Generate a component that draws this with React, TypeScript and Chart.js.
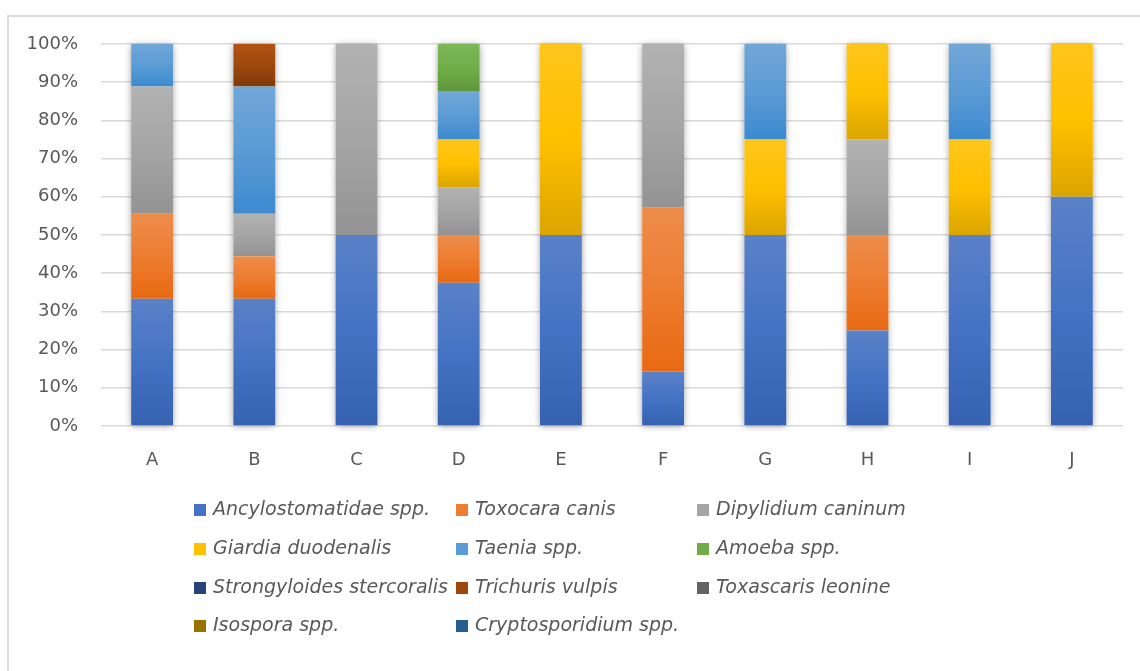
import React, { useEffect, useRef } from "react";
import { Chart, registerables } from "chart.js";

Chart.register(...registerables);

const categories = ["A", "B", "C", "D", "E", "F", "G", "H", "I", "J"];

const seriesNames = [
  "Ancylostomatidae spp.",
  "Toxocara canis",
  "Dipylidium caninum",
  "Giardia duodenalis",
  "Taenia spp.",
  "Amoeba spp.",
  "Strongyloides stercoralis",
  "Trichuris vulpis",
  "Toxascaris leonine",
  "Isospora spp.",
  "Cryptosporidium spp.",
];

const ancylostomatidae = [33.33, 33.33, 50, 37.5, 50, 14.29, 50, 25, 50, 60];
const toxocara = [22.22, 11.11, 0, 12.5, 0, 42.86, 0, 25, 0, 0];
const dipylidium = [33.33, 11.11, 50, 12.5, 0, 42.85, 0, 25, 0, 0];
const giardia = [0, 0, 0, 12.5, 50, 0, 25, 25, 25, 40];
const taenia = [11.12, 33.33, 0, 12.5, 0, 0, 25, 0, 25, 0];
const amoeba = [0, 0, 0, 12.5, 0, 0, 0, 0, 0, 0];
const strongyloides = [0, 0, 0, 0, 0, 0, 0, 0, 0, 0];
const trichuris = [0, 11.12, 0, 0, 0, 0, 0, 0, 0, 0];
const toxascaris = [0, 0, 0, 0, 0, 0, 0, 0, 0, 0];
const isospora = [0, 0, 0, 0, 0, 0, 0, 0, 0, 0];
const cryptosporidium = [0, 0, 0, 0, 0, 0, 0, 0, 0, 0];

const seriesValues = [
  ancylostomatidae,
  toxocara,
  dipylidium,
  giardia,
  taenia,
  amoeba,
  strongyloides,
  trichuris,
  toxascaris,
  isospora,
  cryptosporidium,
];

const seriesColors = [
  "#4472C4",
  "#ED7D31",
  "#A5A5A5",
  "#FFC000",
  "#5B9BD5",
  "#70AD47",
  "#264478",
  "#9E480E",
  "#636363",
  "#997300",
  "#255E91",
];

const yTicks = [0, 10, 20, 30, 40, 50, 60, 70, 80, 90, 100];

function toHsl(hex: string) {
  const n = parseInt(hex.slice(1), 16);
  const r = ((n >> 16) & 255) / 255;
  const g = ((n >> 8) & 255) / 255;
  const b = (n & 255) / 255;
  const max = Math.max(r, g, b);
  const min = Math.min(r, g, b);
  const l = (max + min) / 2;
  let h = 0;
  let s = 0;
  if (max !== min) {
    const d = max - min;
    s = l > 0.5 ? d / (2 - max - min) : d / (max + min);
    if (max === r) h = (g - b) / d + (g < b ? 6 : 0);
    else if (max === g) h = (b - r) / d + 2;
    else h = (r - g) / d + 4;
    h *= 60;
  }
  return { h, s: s * 100, l: l * 100 };
}

function shade(hex: string, dl: number, ds: number) {
  const { h, s, l } = toHsl(hex);
  const s2 = s > 2 ? Math.min(100, s + ds) : s;
  const l2 = Math.max(0, Math.min(100, l + dl));
  return `hsl(${h.toFixed(1)},${s2.toFixed(1)}%,${l2.toFixed(1)}%)`;
}

const TEXT = "#595959";
const AXIS_FONT = "'DejaVu Sans', sans-serif";

const shadowPlugin = {
  id: "barShadow",
  beforeDatasetsDraw(chart: any) {
    const ctx = chart.ctx;
    const metas = chart.getSortedVisibleDatasetMetas();
    if (!metas.length) return;
    const n = chart.data.labels.length;
    ctx.save();
    ctx.shadowColor = "rgba(0,0,0,0.42)";
    ctx.shadowBlur = 7;
    ctx.shadowOffsetX = 0;
    ctx.shadowOffsetY = 1;
    ctx.fillStyle = "#ffffff";
    for (let i = 0; i < n; i++) {
      let top = Infinity;
      let bottom = -Infinity;
      let x = 0;
      let w = 0;
      metas.forEach((m: any) => {
        const el = m.data[i];
        if (!el) return;
        x = el.x;
        w = el.width;
        const t = Math.min(el.y, el.base);
        const b = Math.max(el.y, el.base);
        if (b - t > 0.01) {
          top = Math.min(top, t);
          bottom = Math.max(bottom, b);
        }
      });
      if (top < bottom) ctx.fillRect(x - w / 2, top, w, bottom - top);
    }
    ctx.restore();
  },
};

const legendPlugin = {
  id: "gridLegend",
  afterDraw(chart: any) {
    const ctx = chart.ctx;
    const colX = [194, 456, 697];
    const rowY = [510, 549, 588, 626];
    ctx.save();
    ctx.font = `italic 19px ${AXIS_FONT}`;
    ctx.textBaseline = "middle";
    ctx.textAlign = "left";
    chart.data.datasets.forEach((ds: any, i: number) => {
      const col = i % 3;
      const row = Math.floor(i / 3);
      const x = colX[col];
      const y = rowY[row];
      ctx.fillStyle = seriesColors[i];
      ctx.fillRect(x, y - 6, 12, 12);
      ctx.fillStyle = TEXT;
      ctx.fillText(ds.label, x + 19, y);
    });
    ctx.restore();
  },
};

function gradientFor(base: string) {
  return (c: any) => {
    const chart = c.chart;
    const yScale = chart.scales && chart.scales.y;
    if (c.type !== "data" || !yScale) return base;
    const i = c.dataIndex;
    let start = 0;
    for (let d = 0; d < c.datasetIndex; d++) {
      start += Number(chart.data.datasets[d].data[i]) || 0;
    }
    const v = Number(chart.data.datasets[c.datasetIndex].data[i]) || 0;
    const yTop = yScale.getPixelForValue(start + v);
    const yBot = yScale.getPixelForValue(start);
    if (!isFinite(yTop) || !isFinite(yBot) || Math.abs(yBot - yTop) < 0.5) return base;
    const g = chart.ctx.createLinearGradient(0, yTop, 0, yBot);
    g.addColorStop(0, shade(base, 5, -2));
    g.addColorStop(0.5, base);
    g.addColorStop(1, shade(base, -7, 2));
    return g;
  };
}

export default function App() {
  const ref = useRef<HTMLCanvasElement | null>(null);

  useEffect(() => {
    if (!ref.current) return;
    const chart = new Chart(ref.current, {
      type: "bar",
      data: {
        labels: categories,
        datasets: seriesNames.map((name, i) => ({
          label: name,
          data: seriesValues[i],
          backgroundColor: gradientFor(seriesColors[i]),
          borderWidth: 0,
          barPercentage: 0.41,
          categoryPercentage: 1,
        })),
      },
      options: {
        responsive: false,
        animation: false,
        devicePixelRatio: 1,
        layout: { padding: { top: 44, right: 17, bottom: 0, left: 0 } },
        plugins: {
          legend: { display: false },
          tooltip: { enabled: false },
          title: { display: false },
        },
        scales: {
          x: {
            stacked: true,
            grid: { display: false, drawTicks: false },
            border: { display: false },
            ticks: {
              color: TEXT,
              font: { family: AXIS_FONT, size: 18 },
              padding: 24,
              maxRotation: 0,
            },
            afterFit: (s: any) => {
              s.height = 245;
            },
          },
          y: {
            stacked: true,
            min: 0,
            max: 100,
            afterBuildTicks: (s: any) => {
              s.ticks = yTicks.map((v) => ({ value: v }));
            },
            grid: { color: "#d9d9d9", lineWidth: 1.6, drawTicks: false },
            border: { display: false },
            ticks: {
              color: TEXT,
              font: { family: AXIS_FONT, size: 18 },
              padding: 23,
              callback: (v: any) => `${v}%`,
            },
            afterFit: (s: any) => {
              s.width = 101;
            },
          },
        },
      },
      plugins: [shadowPlugin, legendPlugin],
    });
    return () => chart.destroy();
  }, []);

  return (
    <div>
      <div
        style={{
          position: "fixed",
          left: 7,
          top: 15,
          width: 1200,
          height: 720,
          border: "2px solid #dcdcdc",
          boxSizing: "border-box",
        }}
      />
      <canvas
        ref={ref}
        width={1140}
        height={671}
        style={{ position: "fixed", left: 0, top: 0, width: 1140, height: 671 }}
      />
    </div>
  );
}
